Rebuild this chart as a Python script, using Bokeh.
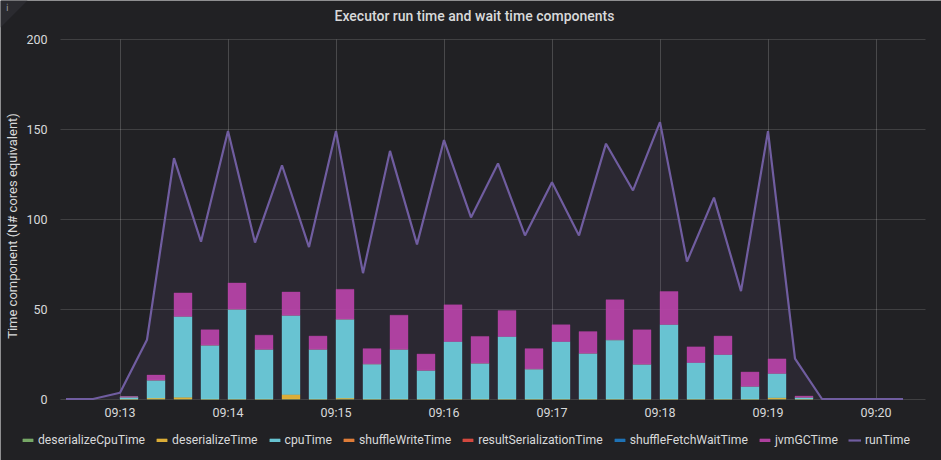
import pandas as pd
from bokeh.embed import file_html
from bokeh.resources import INLINE
from bokeh.models import (ColumnDataSource, FixedTicker, Label, Legend,
                          LegendItem, PolyAnnotation, Range1d)
from bokeh.plotting import figure
import math

TITLE = "Executor run time and wait time components"
Y_LABEL = "Time component (N# cores equivalent)"

line_times = ["09:12:30", "09:12:45", "09:13:00", "09:13:15", "09:13:30", "09:13:45", "09:14:00", "09:14:15",
              "09:14:30", "09:14:45", "09:15:00", "09:15:15", "09:15:30", "09:15:45", "09:16:00", "09:16:15",
              "09:16:30", "09:16:45", "09:17:00", "09:17:15", "09:17:30", "09:17:45", "09:18:00", "09:18:15",
              "09:18:30", "09:18:45", "09:19:00", "09:19:15", "09:19:30", "09:19:45", "09:20:00", "09:20:15"]
runTime = [0, 0, 3.5, 33, 134, 87.5, 149, 87, 130, 84.5, 149, 70, 138, 86, 144, 101,
           131, 91, 120.5, 91, 142, 116, 154, 76.5, 112, 60, 149, 22.5, 0, 0, 0, 0]

bar_times = line_times[2:28]
deserializeCpuTime = [0] * 26
deserializeTime = [0, 0.5, 1, 0, 0, 0, 2.5, 0, 0.5, 0, 0, 0, 0, 0, 0, 0, 0, 0, 0, 0, 0, 0, 0, 0, 0.7, 0]
cpuTime = [1.2, 10, 45, 30, 50, 27.7, 44.1, 27.7, 44, 19.6, 27.7, 16, 32, 20, 34.8, 16.8,
           32, 25.5, 33, 19.4, 41.5, 20.3, 24.8, 7.1, 13.6, 1.0]
shuffleWriteTime = [0] * 26
resultSerializationTime = [0] * 26
shuffleFetchWaitTime = [0] * 26
jvmGCTime = [0, 2.8, 13, 8.5, 14.5, 7.8, 12.9, 7.3, 16.5, 8.4, 18.9, 9, 20.4, 14.8, 14.4, 11.2,
             9.3, 12, 22.2, 19.1, 18.3, 8.7, 10.2, 7.9, 8, 0.6]

stack_names = ["deserializeCpuTime", "deserializeTime", "cpuTime", "shuffleWriteTime",
               "resultSerializationTime", "shuffleFetchWaitTime", "jvmGCTime"]
stack_values = [deserializeCpuTime, deserializeTime, cpuTime, shuffleWriteTime,
                resultSerializationTime, shuffleFetchWaitTime, jvmGCTime]
colors = ["#7EB26D", "#EAB839", "#6ED0E0", "#EF843C", "#E24D42", "#1F78C1", "#BA43A9"]
RUN_COLOR = "#705DA0"
BG = "#212124"
TEXT = "#d8d9da"
y_ticks = [0, 50, 100, 150, 200]
x_labels = ["09:13", "09:14", "09:15", "09:16", "09:17", "09:18", "09:19", "09:20"]
FONT = "Roboto"
W, H = 941, 460


def ms(label):
    return pd.Timestamp("2024-01-01 " + label).value / 1e6


# Annotations are clipped to the frame in the svg backend, so the frame fills the whole
# canvas and the two axes are pinned where the plot area of the panel lies.
MS_PER_PX = 60000 / 108
UNITS_PER_PX = 50 / 89.9
x_at = lambda px: ms("09:13") + (px - 119.5) * MS_PER_PX
y_at = lambda py: (398.5 - py) * UNITS_PER_PX

p = figure(width=W, height=H, output_backend="svg", toolbar_location=None,
           x_range=Range1d(x_at(0), x_at(W)), y_range=Range1d(y_at(H), y_at(0)),
           min_border=0, background_fill_color=BG, border_fill_color=BG, outline_line_color=None)

minute_ticks = [ms(t) for t in x_labels]
p.xgrid.ticker = FixedTicker(ticks=minute_ticks)
p.ygrid.ticker = FixedTicker(ticks=y_ticks)
p.xgrid.grid_line_color = p.ygrid.grid_line_color = "#ffffff"
p.xgrid.grid_line_alpha = 0.18
p.ygrid.grid_line_alpha = 0.14
p.xgrid.cross_bounds = (0, 200)
p.ygrid.cross_bounds = (x_at(60), x_at(925))

p.xaxis.ticker = FixedTicker(ticks=minute_ticks)
p.xaxis.major_label_overrides = {ms(t): t for t in x_labels}
p.yaxis.ticker = FixedTicker(ticks=y_ticks)
p.xaxis.fixed_location = 0
p.yaxis.fixed_location = x_at(60)
for ax in (p.xaxis[0], p.yaxis[0]):
    ax.axis_line_color = None
    ax.major_tick_line_color = None
    ax.minor_tick_line_color = None
    ax.major_label_text_color = TEXT
    ax.major_label_text_font = FONT
    ax.major_label_text_font_size = "12.5px"
p.xaxis.major_label_standoff = 0
p.yaxis.major_label_standoff = 7

line_src = ColumnDataSource(dict(x=[ms(t) for t in line_times], y=runTime, y0=[0] * len(runTime)))
p.varea(x="x", y1="y0", y2="y", source=line_src, fill_color=RUN_COLOR, fill_alpha=0.12)
run_renderer = p.line(x="x", y="y", source=line_src, line_color=RUN_COLOR, line_width=2.2)

bar_x = [ms(t) + 5000 for t in bar_times]
items = []
bottom = [0.0] * len(bar_times)
for name, values, color in zip(stack_names, stack_values, colors):
    top = [b + v for b, v in zip(bottom, values)]
    src = ColumnDataSource(dict(x=bar_x, bottom=bottom, top=top))
    r = p.vbar(x="x", bottom="bottom", top="top", width=10000, source=src,
               fill_color=color, fill_alpha=0.92, line_color=color, line_width=1, line_alpha=0.35)
    items.append(LegendItem(label=name, renderers=[r]))
    bottom = top
items.append(LegendItem(label="runTime", renderers=[run_renderer]))

legend = Legend(items=items, orientation="horizontal", location=(21, 13), border_line_color=None,
                background_fill_alpha=0, margin=0, padding=0, spacing=10, label_standoff=4,
                glyph_width=13, glyph_height=4, label_text_color=TEXT, label_text_font=FONT,
                label_text_font_size="12.2px", label_height=14)
p.add_layout(legend)

p.add_layout(Label(x=474, y=H - 15, x_units="screen", y_units="screen", text=TITLE, text_align="center",
                   text_baseline="middle", text_color=TEXT, text_font="Roboto Medium",
                   text_font_size="14px"))
p.add_layout(Label(x=12, y=H - 225.5, x_units="screen", y_units="screen", text=Y_LABEL, text_align="center",
                   text_baseline="middle", text_color=TEXT, text_font=FONT, text_font_size="13px",
                   angle=math.pi / 2))
p.add_layout(PolyAnnotation(xs=[0, 27, 0], ys=[H, H, H - 27], xs_units="screen", ys_units="screen",
                            fill_color="#2b2b30", fill_alpha=1, line_color=None))
p.add_layout(Label(x=7, y=H - 7, x_units="screen", y_units="screen", text="ℹ", text_color="#9a9a9f",
                   text_align="center", text_font_size="10px", text_baseline="middle"))

open("out.html", "w").write(file_html(p, INLINE))
